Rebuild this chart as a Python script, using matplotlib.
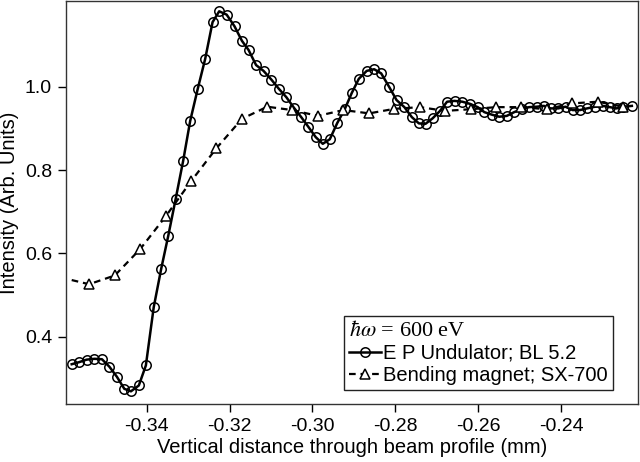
import matplotlib
matplotlib.use("Agg")
import matplotlib.pyplot as plt

plt.rcParams['font.family'] = ['Liberation Sans', 'DejaVu Sans']
plt.rcParams['axes.unicode_minus'] = False
plt.rcParams['mathtext.fontset'] = 'stix'

# EP undulator, BL 5.2 (circles)
und_x = [-0.3581, -0.3563, -0.3545, -0.3526, -0.3508, -0.3490, -0.3472, -0.3454,
         -0.3438, -0.3419, -0.3402, -0.3383, -0.3365, -0.3348, -0.3330, -0.3312,
         -0.3295, -0.3277, -0.3259, -0.3241, -0.3225, -0.3207, -0.3188, -0.3170,
         -0.3154, -0.3136, -0.3118, -0.3099, -0.3081, -0.3063, -0.3045, -0.3027,
         -0.3010, -0.2992, -0.2975, -0.2958, -0.2940, -0.2922, -0.2905, -0.2888,
         -0.2869, -0.2851, -0.2834, -0.2815, -0.2797, -0.2778, -0.2760, -0.2743,
         -0.2727, -0.2710, -0.2692, -0.2675, -0.2657, -0.2638, -0.2620, -0.2601,
         -0.2585, -0.2567, -0.2549, -0.2531, -0.2513, -0.2495, -0.2477, -0.2459,
         -0.2441, -0.2425, -0.2407, -0.2389, -0.2372, -0.2354, -0.2337, -0.2318,
         -0.2299, -0.2282, -0.2266, -0.2250, -0.2229]
und_y = [0.334, 0.339, 0.345, 0.347, 0.346, 0.328, 0.304, 0.275,
         0.269, 0.283, 0.331, 0.471, 0.563, 0.642, 0.731, 0.822,
         0.918, 0.994, 1.066, 1.155, 1.181, 1.173, 1.145, 1.110,
         1.088, 1.052, 1.038, 1.017, 0.995, 0.975, 0.950, 0.927,
         0.904, 0.879, 0.863, 0.874, 0.913, 0.946, 0.985, 1.019,
         1.038, 1.042, 1.032, 1.000, 0.968, 0.951, 0.927, 0.912,
         0.911, 0.924, 0.942, 0.964, 0.966, 0.964, 0.959, 0.951,
         0.939, 0.933, 0.928, 0.930, 0.939, 0.946, 0.951, 0.952,
         0.954, 0.948, 0.948, 0.952, 0.944, 0.944, 0.948, 0.952,
         0.954, 0.951, 0.948, 0.952, 0.954]

# Bending magnet, SX-700 (triangles); first point has no marker
bend_x = [-0.3581, -0.3539, -0.3477, -0.3416, -0.3354, -0.3293, -0.3232, -0.3170,
          -0.3109, -0.3049, -0.2987, -0.2925, -0.2863, -0.2802, -0.2740, -0.2680,
          -0.2618, -0.2557, -0.2497, -0.2434, -0.2373, -0.2311, -0.2250]
bend_y = [0.536, 0.526, 0.547, 0.610, 0.689, 0.773, 0.852, 0.923,
          0.952, 0.944, 0.930, 0.944, 0.936, 0.947, 0.951, 0.942,
          0.946, 0.951, 0.951, 0.946, 0.960, 0.964, 0.952]

xticks = [-0.34, -0.32, -0.30, -0.28, -0.26, -0.24]
yticks = [0.4, 0.6, 0.8, 1.0]

fig = plt.figure(figsize=(6.4, 4.62), dpi=100)
ax = fig.add_axes([0.1031, 0.1255, 0.8938, 0.8723])

ax.plot(und_x, und_y, color='black', lw=1.8, marker='o', ms=6.8,
        mfc='none', mec='black', mew=1.1, label='E P Undulator; BL 5.2')
ax.plot(bend_x, bend_y, color='black', lw=1.6, ls=(0, (3, 2.2)), marker='^',
        ms=6.5, mfc='white', mec='black', mew=1.1, markevery=slice(1, None),
        label='Bending magnet; SX-700')

ax.set_xlim(-0.35948, -0.22141)
ax.set_ylim(0.2385, 1.2057)
ax.set_xticks(xticks)
ax.set_xticklabels(['%.2f' % v for v in xticks])
ax.set_yticks(yticks)
ax.set_yticklabels(['%.1f' % v for v in yticks])
ax.tick_params(direction='out', length=6, width=1, labelsize=14, pad=4)
for s in ax.spines.values():
    s.set_linewidth(1.0)
    s.set_color('#333333')

ax.set_xlabel('Vertical distance through beam profile (mm)', fontsize=14.5, labelpad=2)
ax.set_ylabel('Intensity (Arb. Units)', fontsize=14.5, labelpad=4)

leg = ax.legend(loc='lower left', bbox_to_anchor=(0.486, 0.035), borderaxespad=0,
                fontsize=14.5, title=r'$\hbar\omega$ = 600 eV',
                title_fontproperties={'family': 'Liberation Serif', 'size': 16},
                alignment='left', fancybox=False, framealpha=1, edgecolor='#222222',
                handlelength=1.6, handletextpad=0.1, borderpad=0.25, labelspacing=0.15)
leg.get_frame().set_linewidth(1.0)

fig.savefig('out.png', dpi=100)
